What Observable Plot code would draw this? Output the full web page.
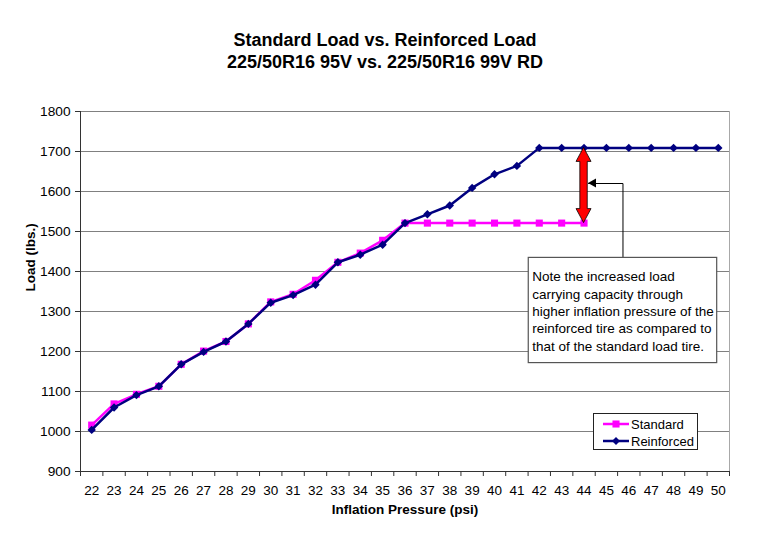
<!DOCTYPE html>
<html>
<head>
<meta charset="utf-8">
<script src="https://cdn.jsdelivr.net/npm/d3@7"></script>
<script src="https://cdn.jsdelivr.net/npm/@observablehq/plot@0.6"></script>
<style>
  body { margin: 0; background: #fff; font-family: "Liberation Sans", Arial, sans-serif; }
  #wrap { position: relative; width: 770px; height: 548px; }
  #title { height: 90px; box-sizing: border-box; padding-top: 29px; text-align: center;
           font-weight: bold; font-size: 18px; line-height: 22px; color: #000; }
  #legend { position: absolute; left: 593px; top: 413px; }
</style>
</head>
<body>
<div id="wrap">
  <div id="title">Standard Load vs. Reinforced Load<br>225/50R16 95V vs. 225/50R16 99V RD</div>
  <div id="chart"></div>
  <div id="legend"></div>
</div>
<script>
// ---- data ----
const pressure = [22, 23, 24, 25, 26, 27, 28, 29, 30, 31, 32, 33, 34, 35, 36, 37, 38, 39, 40, 41, 42, 43, 44, 45, 46, 47, 48, 49, 50];
const standardLoad = [1016, 1069, 1093, 1113, 1168, 1201, 1225, 1269, 1324, 1343, 1378, 1423, 1446, 1478, 1521,
                      1521, 1521, 1521, 1521, 1521, 1521, 1521, 1521];
const reinforcedLoad = [1004, 1060, 1091, 1113, 1168, 1199, 1225, 1269, 1322, 1341, 1367, 1423, 1442, 1467, 1521,
                        1543, 1565, 1609, 1643, 1664, 1709, 1709, 1709, 1709, 1709, 1709, 1709, 1709, 1709];
const yTicks = [900, 1000, 1100, 1200, 1300, 1400, 1500, 1600, 1700, 1800];
const seriesNames = ["Standard", "Reinforced"];
const noteLines = ["Note the increased load", "carrying capacity through", "higher inflation pressure of the",
                   "reinforced tire as compared to", "that of the standard load tire."];
// annotation anchor (data units)
const gapPressure = 44;
const noteBox = {x1: 41.53, x2: 49.95, y1: 1171, y2: 1434};
const connectorLoad = 1620;
const connectorEnd = 44.2;

// ---- derived tables ----
const standard = standardLoad.map((v, i) => ({p: pressure[i], v}));
const reinforced = reinforcedLoad.map((v, i) => ({p: pressure[i], v}));
const xMin = pressure[0] - 0.5, xMax = pressure[pressure.length - 1] + 0.5;
const boundaries = [...pressure.map(p => p - 0.5), xMax];
const gapTop = reinforced.find(d => d.p === gapPressure).v;
const gapBottom = standard.find(d => d.p === gapPressure).v;
const boxMidX = (noteBox.x1 + noteBox.x2) / 2;
const connector = [
  {p: boxMidX, v: noteBox.y2},
  {p: boxMidX, v: connectorLoad},
  {p: connectorEnd, v: connectorLoad}
];

const PINK = "#FF00FF", NAVY = "#000080", AXIS = "#333", GRID = "#808080";

function doubleArrow(index, scales) {
  const x = scales.x(gapPressure), ya = scales.y(gapTop), yb = scales.y(gapBottom);
  const hw = 7.5, sw = 3.7, hl = 14;
  const d = `M${x},${ya}L${x + hw},${ya + hl}L${x + sw},${ya + hl}L${x + sw},${yb - hl}L${x + hw},${yb - hl}` +
            `L${x},${yb}L${x - hw},${yb - hl}L${x - sw},${yb - hl}L${x - sw},${ya + hl}L${x - hw},${ya + hl}Z`;
  return d3.create("svg:path").attr("d", d).attr("fill", "#FF0000")
    .attr("stroke", "#000").attr("stroke-width", 0.8).node();
}
function connectorHead(index, scales) {
  const x = scales.x(connectorEnd), y = scales.y(connectorLoad);
  return d3.create("svg:path").attr("d", `M${x},${y}L${x + 8},${y - 4.5}L${x + 8},${y + 4.5}Z`)
    .attr("fill", "#000").node();
}

const chart = Plot.plot({
  width: 770,
  height: 458,
  marginTop: 21,
  marginBottom: 77,
  marginLeft: 80,
  marginRight: 41,
  style: {fontFamily: "'Liberation Sans', Arial, sans-serif", fontSize: "13.5px", color: "#000", background: "#fff", overflow: "visible"},
  x: {type: "linear", domain: [xMin, xMax]},
  y: {type: "linear", domain: [yTicks[0], yTicks[yTicks.length - 1]]},
  marks: [
    Plot.ruleY(yTicks.slice(1), {stroke: GRID, strokeWidth: 1}),
    Plot.ruleX([xMax], {stroke: "#a8a8a8", strokeWidth: 1}),
    Plot.ruleX([xMin], {stroke: AXIS, strokeWidth: 1}),
    Plot.ruleY([yTicks[0]], {stroke: AXIS, strokeWidth: 1}),
    Plot.axisY({ticks: yTicks, tickSize: 5, tickPadding: 5, stroke: AXIS, label: null, tickFormat: d => String(d), fontSize: 13.7}),
    Plot.axisX({ticks: boundaries, tickSize: 5, stroke: AXIS, tickFormat: () => "", label: null}),
    Plot.axisX({ticks: pressure, tickSize: 0, tickPadding: 14, tickFormat: d => String(d), label: null, fontSize: 13.5}),
    Plot.text(["Inflation Pressure (psi)"], {frameAnchor: "bottom", dy: 42, fontWeight: "bold", fontSize: 13.5}),
    Plot.text(["Load (lbs.)"], {frameAnchor: "left", dx: -50, rotate: -90, fontWeight: "bold", fontSize: 13.5}),
    // series
    Plot.line(standard, {x: "p", y: "v", stroke: PINK, strokeWidth: 2.5}),
    Plot.dot(standard, {x: "p", y: "v", symbol: "square", r: 4, fill: PINK, stroke: "none"}),
    Plot.line(reinforced, {x: "p", y: "v", stroke: NAVY, strokeWidth: 2.5}),
    Plot.dot(reinforced, {x: "p", y: "v", symbol: "diamond2", r: 3.8, fill: NAVY, stroke: "none"}),
    // annotation
    doubleArrow,
    Plot.line(connector, {x: "p", y: "v", stroke: "#000", strokeWidth: 1}),
    connectorHead,
    Plot.rect([noteBox], {x1: "x1", x2: "x2", y1: "y1", y2: "y2", fill: "#fff", stroke: "#555", strokeWidth: 1.2}),
    Plot.text([noteLines.join("\n")], {x: noteBox.x1, y: (noteBox.y1 + noteBox.y2) / 2, dx: 3.5,
      textAnchor: "start", lineAnchor: "middle", lineHeight: 1.28, fontSize: 13.5, fill: "#000"})
  ]
});
document.getElementById("chart").appendChild(chart);

// ---- legend ----
const lg = d3.select("#legend").append("svg").attr("width", 105).attr("height", 37)
  .style("font-family", "'Liberation Sans', Arial, sans-serif").style("font-size", "13px").style("display", "block");
lg.append("rect").attr("x", 0.5).attr("y", 0.5).attr("width", 104).attr("height", 36)
  .attr("fill", "#fff").attr("stroke", "#222").attr("stroke-width", 1);
const legendItems = [
  {name: seriesNames[0], color: PINK, sym: d3.symbolSquare, size: 50},
  {name: seriesNames[1], color: NAVY, sym: d3.symbolDiamond2, size: 40}
];
legendItems.forEach((it, i) => {
  const cy = 11 + i * 17;
  lg.append("line").attr("x1", 10).attr("x2", 36).attr("y1", cy).attr("y2", cy)
    .attr("stroke", it.color).attr("stroke-width", 2.5);
  lg.append("path").attr("d", d3.symbol(it.sym, it.size)()).attr("transform", `translate(23,${cy})`).attr("fill", it.color);
  lg.append("text").attr("x", 38).attr("y", cy).attr("dy", "0.35em").text(it.name);
});
</script>
</body>
</html>
